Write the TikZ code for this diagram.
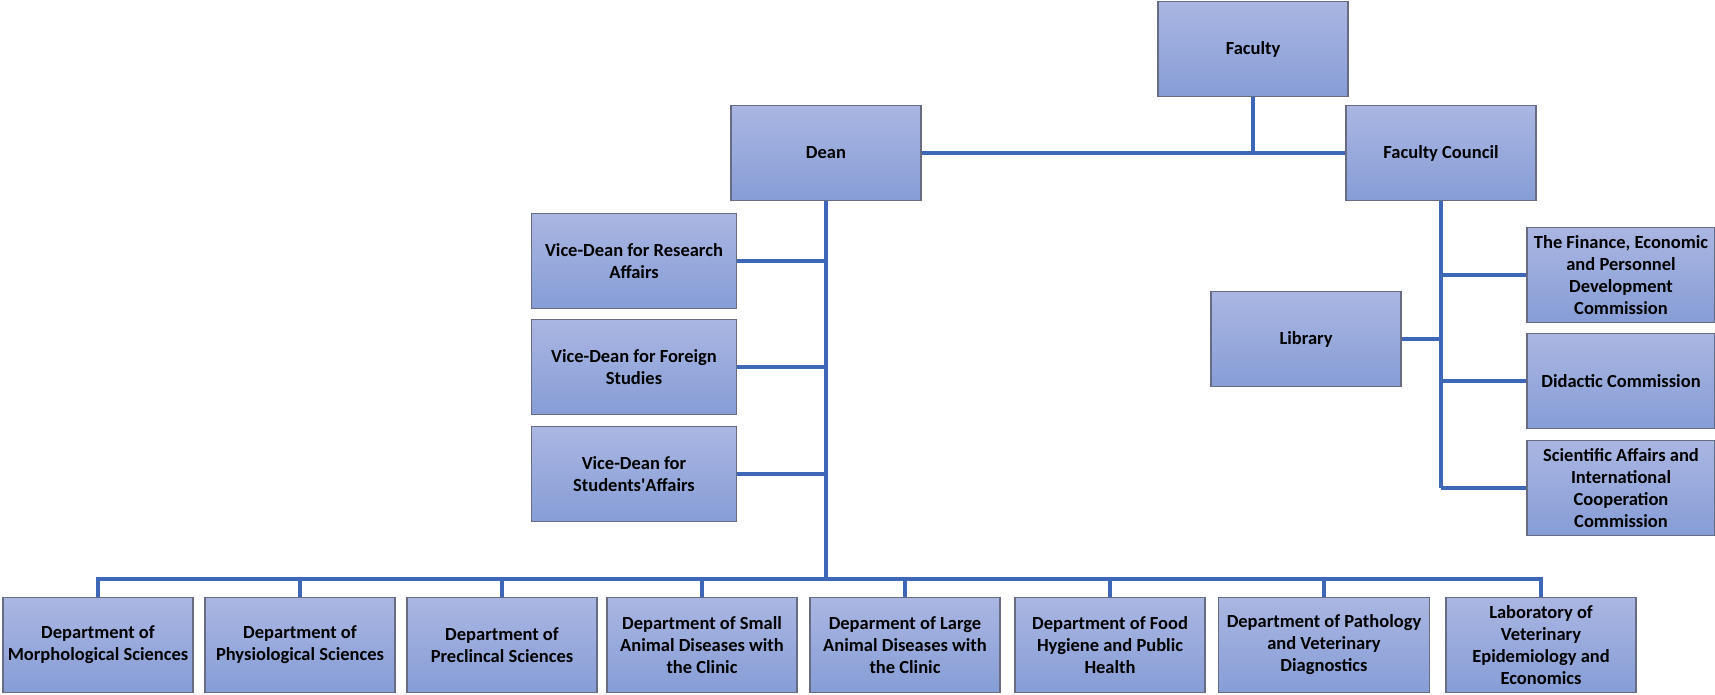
\documentclass[tikz,border=0pt]{standalone}
\usepackage{fontspec}
\setmainfont{Carlito}
\definecolor{boxtop}{RGB}{170,182,226}
\definecolor{boxbottom}{RGB}{134,157,214}
\definecolor{boxborder}{RGB}{104,108,130}
\definecolor{orgblue}{RGB}{62,103,184}

\begin{document}
\begin{tikzpicture}[x=1pt,y=-1pt,
  unit/.style={draw=boxborder,line width=1.3pt,top color=boxtop,bottom color=boxbottom,
    minimum width=190pt,minimum height=95pt,inner sep=2pt,align=center,
    font=\fontsize{18.5}{22}\selectfont\bfseries},
  link/.style={draw=orgblue,line width=3.5pt}]
\useasboundingbox (0,0) rectangle (1715,695);
% top level
\node[unit](fac) at (1253,49) {Faculty};
\node[unit](dean) at (826,153) {Dean};
\node[unit](council) at (1441,153) {Faculty Council};
% vice-deans
\node[unit,minimum width=205pt](vd1) at (634,261) {Vice-Dean for Research\\Affairs};
\node[unit,minimum width=205pt](vd2) at (634,367) {Vice-Dean for Foreign\\Studies};
\node[unit,minimum width=205pt](vd3) at (634,474) {Vice-Dean for\\Students\textquotesingle Affairs};
% council side
\node[unit](lib) at (1306,339) {Library};
\node[unit,minimum width=188pt](com1) at (1621,275) {The Finance, Economic\\and Personnel\\Development\\Commission};
\node[unit,minimum width=188pt](com2) at (1621,381) {Didactic Commission};
\node[unit,minimum width=188pt](com3) at (1621,488) {Scientific Affairs and\\International\\Cooperation\\Commission};
% departments
\node[unit](d1) at (98,645) {Department of\\Morphological Sciences};
\node[unit](d2) at (300,645) {Department of\\Physiological Sciences};
\node[unit](d3) at (502,645) {Department of\\Preclincal Sciences};
\node[unit](d4) at (702,645) {Department of Small\\Animal Diseases with\\the Clinic};
\node[unit](d5) at (905,645) {Deparment of Large\\Animal Diseases with\\the Clinic};
\node[unit](d6) at (1110,645) {Department of Food\\Hygiene and Public\\Health};
\node[unit,minimum width=211pt](d7) at (1324,645) {Department of Pathology\\and Veterinary\\Diagnostics};
\node[unit](d8) at (1541,645) {Laboratory of\\Veterinary\\Epidemiology and\\Economics};
\coordinate (bus) at (826,579);

\draw[link] (dean.east) -- (council.west);
\draw[link] (fac.south) -- (fac.south |- council.west);
\draw[link] (dean.south) -- (bus);
\foreach \i in {1,2,3}
  \draw[link] (vd\i.east) -- (vd\i.east -| dean.south);
\foreach \i in {1,...,8}
  \draw[link] (bus) -| (d\i.north);

\draw[link] (council.south) -- (council.south |- com3.west);
\foreach \i in {1,2,3}
  \draw[link] (council.south |- com\i.west) -- (com\i.west);
\draw[link] (lib.east) -- (lib.east -| council.south);

\end{tikzpicture}
\end{document}
